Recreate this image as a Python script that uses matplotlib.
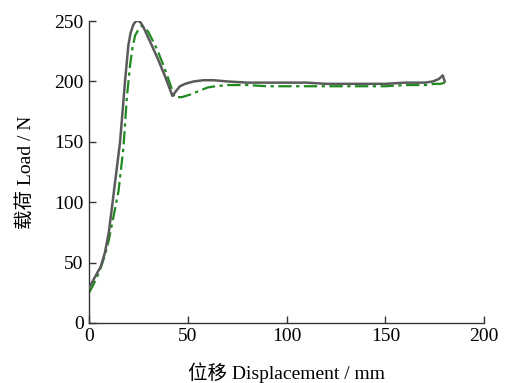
import matplotlib.pyplot as plt

plt.rcParams['font.family'] = ['Liberation Serif', 'Noto Sans CJK SC']

# gray solid curve
disp_a = [0, 2, 4, 6, 8, 10, 12, 13.2, 15.7, 18.2, 19.9, 21, 22.4, 23.5, 24.6, 26,
          27.5, 31.7, 35, 38.5, 42.2, 44, 46, 48.6, 53, 58, 63, 70, 80, 90, 100, 110,
          120, 130, 140, 150, 160, 165, 170, 174, 177, 179, 180]
load_a = [29, 35, 41, 47, 58, 75, 101, 117, 150, 200, 230, 240, 247, 249.5, 250.5,
          249, 245, 230, 218, 204, 188, 192, 196, 198, 200, 201, 201, 200, 199, 199,
          199, 199, 198, 198, 198, 198, 199, 199, 199, 200, 202, 205, 200]

# green dash-dot curve
disp_b = [0, 2, 4, 6, 8, 9.8, 12, 14.9, 17.4, 19.1, 20.8, 22, 23.3, 25, 26.7, 28,
          30, 34.3, 38, 41, 43.2, 47, 51, 54, 57, 60, 64, 70, 80, 90, 100, 110, 120,
          130, 140, 150, 160, 170, 175, 178, 180]
load_b = [25, 31, 38, 46, 56, 67, 85, 109, 145, 186, 214, 228, 238, 243, 246, 245,
          241, 227, 212, 198, 187, 187, 189, 191, 193, 195, 196, 197, 197, 196, 196,
          196, 196, 196, 196, 196, 197, 197, 198, 198, 199]

fig = plt.figure(figsize=(5.06, 3.83), dpi=100)
ax = fig.add_axes([0.176, 0.157, 0.781, 0.788])

ax.plot(disp_a, load_a, color='#5a5a5a', lw=1.8, zorder=3)
ax.plot(disp_b, load_b, color='#1f8a1f', lw=1.6, ls=(0, (6, 2, 1.5, 2)), zorder=2)

ax.set_xlim(0, 200)
ax.set_ylim(0, 250)
ax.set_xticks([0, 50, 100, 150, 200])
ax.set_yticks([0, 50, 100, 150, 200, 250])
ax.spines['top'].set_visible(False)
ax.spines['right'].set_visible(False)
for s in ('left', 'bottom'):
    ax.spines[s].set_color('#333333')
    ax.spines[s].set_linewidth(1.0)
ax.tick_params(direction='in', length=5, width=1.0, color='#333333',
               labelsize=14, pad=4)

ax.set_xlabel('位移 Displacement / mm', fontsize=14, labelpad=12)
ax.set_ylabel('载荷 Load / N', fontsize=14, labelpad=14)

fig.savefig('out.png', dpi=100)
